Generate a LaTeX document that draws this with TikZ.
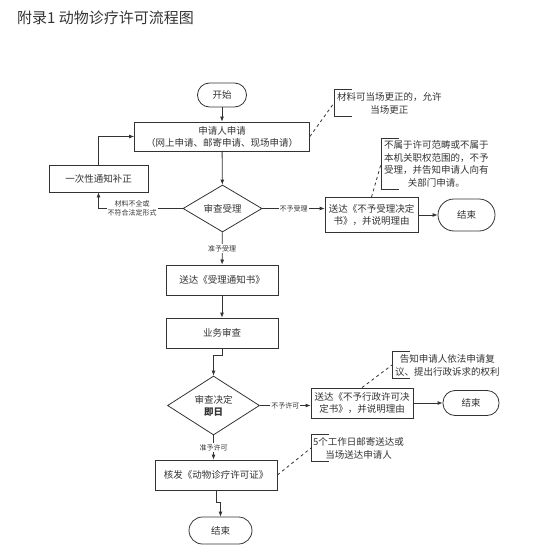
\documentclass[tikz,border=0pt]{standalone}
\usepackage{fontspec}
\setmainfont{Noto Sans CJK SC}
\usetikzlibrary{positioning,arrows.meta,calc,shapes.geometric}
\definecolor{ink}{HTML}{333333}

\begin{document}
\begin{tikzpicture}[x=1pt,y=-1pt,font=\fontsize{9.5}{12}\selectfont,color=ink,
  bx/.style={draw=ink,line width=0.8pt,align=center,inner sep=2pt,fill=white},
  term/.style={bx,rounded corners=12pt},
  dec/.style={draw=ink,line width=0.8pt,diamond,inner sep=0pt,align=center},
  lbl/.style={font=\fontsize{7}{9}\selectfont,fill=white,inner sep=1pt,align=center},
  note/.style={align=center,inner xsep=3pt,inner ysep=2.5pt,anchor=west,font=\fontsize{9.5}{13}\selectfont},
  brk/.style={draw=ink,line width=0.8pt},
  dsh/.style={draw=ink,line width=0.8pt,dashed},
  ar/.style={-{Latex[length=5pt,width=4pt]},line width=0.8pt}]
  \useasboundingbox (0,0) rectangle (552,546);
  \node[anchor=west,inner sep=0pt,font=\fontsize{15}{18}\selectfont] (title) at (17,18) {附录1 动物诊疗许可流程图};
  % main column
  \node[term,minimum width=49pt,minimum height=24pt] (start) at (222,95) {开始};
  \node[bx,minimum width=175pt,minimum height=29pt] (apply) at (222,136.5) {申请人申请\\（网上申请、邮寄申请、现场申请）};
  \node[bx,minimum width=99pt,minimum height=27pt] (fix) at (98.5,178.5) {一次性通知补正};
  \node[dec,minimum width=79pt,minimum height=47pt] (d1) at (222.5,208.5) {审查受理};
  \node[bx,minimum width=93pt,minimum height=35pt,font=\fontsize{9.5}{11.5}\selectfont] (rej1) at (371.5,215) {送达《不予受理决定\\书》，并说明理由};
  \node[term,minimum width=57pt,minimum height=32pt,rounded corners=16pt] (end1) at (466.5,215) {结束};
  \node[bx,minimum width=112pt,minimum height=30pt] (notice) at (222,280) {送达《受理通知书》};
  \node[bx,minimum width=112pt,minimum height=30pt] (review) at (222,333) {业务审查};
  \node[dec,minimum width=92pt,minimum height=53pt] (d2) at (213.5,405.5) {审查决定\\{\bfseries 即日}};
  \node[bx,minimum width=102pt,minimum height=30pt,font=\fontsize{9.5}{11.5}\selectfont] (rej2) at (362,403) {送达《不予行政许可决\\定书》，并说明理由};
  \node[term,minimum width=56pt,minimum height=25pt] (end2) at (471,403) {结束};
  \node[bx,minimum width=122pt,minimum height=30pt] (issue) at (216,475) {核发《动物诊疗许可证》};
  \node[term,minimum width=63pt,minimum height=27pt,rounded corners=13.5pt] (end3) at (220.5,530.5) {结束};
  % side notes
  \node[note] (n1) at (334,103) {材料可当场更正的，允许\\当场更正};
  \node[note,font=\fontsize{9.5}{12.5}\selectfont] (n2) at (381,164) {不属于许可范畴或不属于\\本机关职权范围的，不予\\受理，并告知申请人向有\\关部门申请。};
  \node[note] (n3) at (392,365) {告知申请人依法申请复\\议、提出行政诉求的权利};
  \node[note,inner xsep=2pt] (n4) at (311,448) {5个工作日邮寄送达或\\当场送达申请人};
  \foreach \n in {n1,n2,n3,n4}
    \draw[brk] ($(\n.north west)+(18,0)$) -- (\n.north west) -- (\n.south west) -- ++(18,0);
  % connectors
  \draw[ar] (start) -- (apply); \draw[ar] (apply) -- (d1);
  \draw[ar] (d1.west) -| node[lbl,pos=0.3]{材料不全或\\不符合法定形式} (fix.south);
  \draw[ar] (fix.north) |- (apply.west);
  \draw[ar] (d1.east) -- node[lbl]{不予受理} (d1.east -| rej1.west);
  \draw[ar] (rej1) -- (end1);
  \draw[ar] (d1) -- node[lbl]{准予受理} (notice);
  \draw[ar] (notice) -- (review);
  \draw[ar] (review.south) -- ++(0,7) -| (d2.north);
  \draw[ar] (d2.east) -- node[lbl]{不予许可} (d2.east -| rej2.west);
  \draw[ar] (rej2) -- (end2);
  \draw[ar] (d2.south) -- node[lbl]{准予许可} (d2.south |- issue.north);
  \draw[ar] (issue.south) -- ++(0,12) -| (end3.north);
  \draw[dsh] (apply.east) -- (n1.west); \draw[dsh] (rej1.north) -- (n2.west);
  \draw[dsh] (rej2.north) -- (n3.west); \draw[dsh] (issue.east) -- (n4.west);
\end{tikzpicture}
\end{document}
